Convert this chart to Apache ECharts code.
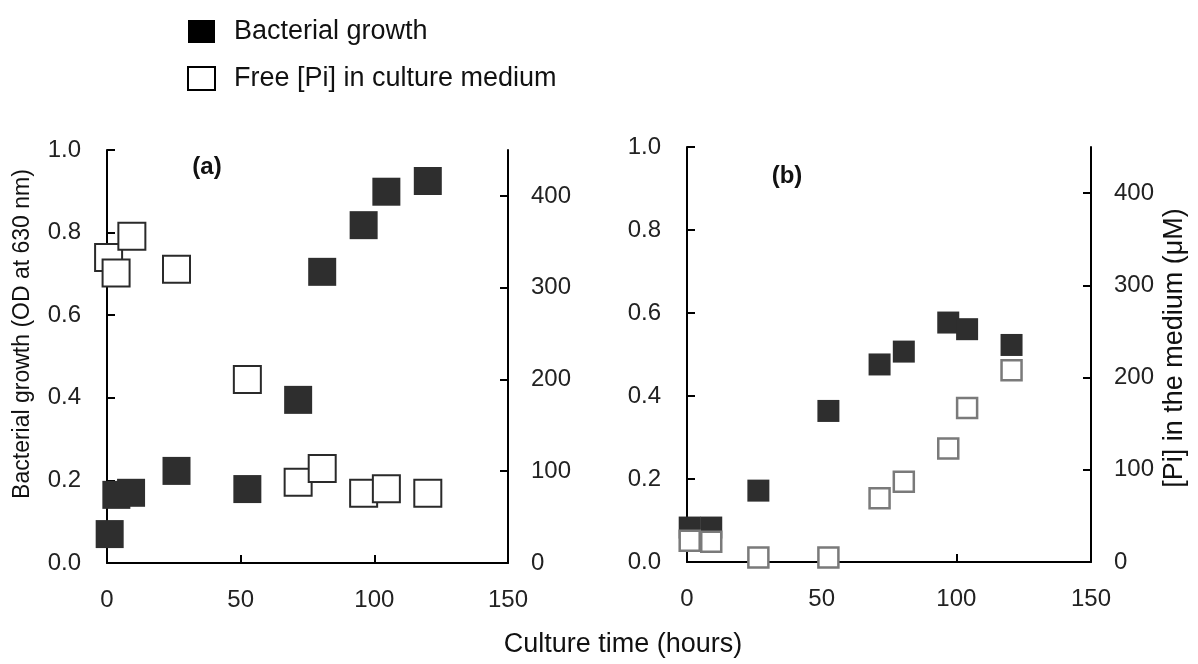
<!DOCTYPE html>
<html>
<head>
<meta charset="utf-8">
<script src="https://cdn.jsdelivr.net/npm/echarts@6/dist/echarts.min.js"></script>
<style>
html,body{margin:0;padding:0;background:#fff;}
#chart{width:1198px;height:664px;}
</style>
</head>
<body>
<div id="chart"></div>
<script>
// ---- data ----
const timeA = [1, 3.5, 9, 26, 52.5, 71.5, 80.5, 96, 104.5, 120];
const growthA = [0.07, 0.165, 0.17, 0.223, 0.179, 0.395, 0.705, 0.818, 0.899, 0.925];
const timePiA = [0.6, 3.4, 9.3, 26, 52.5, 71.5, 80.5, 96, 104.5, 120];
const piA = [333, 316, 356, 320, 200, 88, 103, 76, 81, 76];

const timeB = [1, 9, 26.5, 52.5, 71.5, 80.5, 97, 104, 120.5];
const growthB = [0.083, 0.083, 0.172, 0.364, 0.476, 0.507, 0.577, 0.561, 0.523];
const piB = [23, 22, 5, 5, 69, 87, 123, 167, 208];

const xTicks = [0, 50, 100, 150];
const leftTicks = [0, 0.2, 0.4, 0.6, 0.8, 1.0];
const rightTicks = [0, 100, 200, 300, 400];

const seriesNames = ['Bacterial growth', 'Free [Pi] in culture medium'];
const panelLabels = ['(a)', '(b)'];
const leftTitle = 'Bacterial growth (OD at 630 nm)';
const rightTitle = '[Pi] in the medium (\u03bcM)';
const xTitle = 'Culture time (hours)';

// ---- chart ----
const FONT = '"Liberation Sans", Arial, sans-serif';
const pair = (xs, ys) => xs.map((x, i) => [x, ys[i]]);

function xAxisCfg(gi) {
  return {
    type: 'value', gridIndex: gi, min: 0, max: 150, interval: 50,
    axisLine: { show: true, onZero: false, lineStyle: { color: '#000', width: 2 } },
    axisTick: { show: true, inside: true, length: 8, lineStyle: { color: '#000', width: 2 } },
    axisLabel: { margin: 25, fontSize: 24, color: '#222', fontFamily: FONT },
    splitLine: { show: false }
  };
}
function leftAxisCfg(gi) {
  return {
    type: 'value', gridIndex: gi, position: 'left', min: 0, max: 1, interval: 0.2,
    axisLine: { show: true, onZero: false, lineStyle: { color: '#000', width: 2 } },
    axisTick: { show: true, inside: true, length: 8, lineStyle: { color: '#000', width: 2 } },
    axisLabel: { margin: 26, fontSize: 24, color: '#222', fontFamily: FONT,
      formatter: v => v.toFixed(1) },
    splitLine: { show: false }
  };
}
function rightAxisCfg(gi) {
  return {
    type: 'value', gridIndex: gi, position: 'right', min: 0, max: 450,
    axisLine: { show: true, onZero: false, lineStyle: { color: '#000', width: 2 } },
    axisTick: { show: true, inside: true, length: 8, customValues: rightTicks,
      lineStyle: { color: '#000', width: 2 } },
    axisLabel: { margin: 23, fontSize: 24, color: '#222', fontFamily: FONT,
      customValues: rightTicks },
    splitLine: { show: false }
  };
}

const chart = echarts.init(document.getElementById('chart'));
chart.setOption({
  backgroundColor: '#fff',
  animation: false,
  textStyle: { fontFamily: FONT },
  legend: {
    orient: 'vertical', left: 182, top: 13, itemWidth: 27, itemHeight: 23, itemGap: 20,
    textStyle: { fontSize: 27, color: '#111', fontFamily: FONT, padding: [0, 0, 0, 14] },
    data: [
      { name: seriesNames[0], icon: 'rect', itemStyle: { color: '#000', borderWidth: 0 } },
      { name: seriesNames[1], icon: 'rect', itemStyle: { color: '#fff', borderColor: '#000', borderWidth: 2 } }
    ],
    selectedMode: false
  },
  grid: [
    { left: 107, top: 150, width: 401, height: 413 },
    { left: 687, top: 147, width: 404, height: 415 }
  ],
  xAxis: [xAxisCfg(0), xAxisCfg(1)],
  yAxis: [leftAxisCfg(0), rightAxisCfg(0), leftAxisCfg(1), rightAxisCfg(1)],
  series: [
    { name: seriesNames[0], type: 'scatter', xAxisIndex: 0, yAxisIndex: 0,
      symbol: 'rect', symbolSize: 28, data: pair(timeA, growthA),
      itemStyle: { color: '#2e2e2e', opacity: 1 } },
    { name: seriesNames[1], type: 'scatter', xAxisIndex: 0, yAxisIndex: 1,
      symbol: 'rect', symbolSize: 27, data: pair(timePiA, piA),
      itemStyle: { color: '#fff', borderColor: '#2a2a2a', borderWidth: 2, opacity: 1 } },
    { name: seriesNames[0], type: 'scatter', xAxisIndex: 1, yAxisIndex: 2,
      symbol: 'rect', symbolSize: 22, data: pair(timeB, growthB),
      itemStyle: { color: '#2e2e2e', opacity: 1 } },
    { name: seriesNames[1], type: 'scatter', xAxisIndex: 1, yAxisIndex: 3,
      symbol: 'rect', symbolSize: 20, data: pair(timeB, piB),
      itemStyle: { color: '#fff', borderColor: '#7a7a7a', borderWidth: 2.5, opacity: 1 } }
  ],
  graphic: [
    { type: 'text', x: 207, y: 167, style: { text: panelLabels[0], font: 'bold 24px ' + FONT,
      fill: '#111', align: 'center', verticalAlign: 'middle' } },
    { type: 'text', x: 787, y: 176, style: { text: panelLabels[1], font: 'bold 24px ' + FONT,
      fill: '#111', align: 'center', verticalAlign: 'middle' } },
    { type: 'text', x: 23, y: 334, rotation: Math.PI / 2,
      style: { text: leftTitle, font: '23px ' + FONT, fill: '#111', align: 'center', verticalAlign: 'middle' } },
    { type: 'text', x: 1175, y: 348, rotation: Math.PI / 2,
      style: { text: rightTitle, font: '27px ' + FONT, fill: '#111', align: 'center', verticalAlign: 'middle' } },
    { type: 'text', x: 623, y: 645,
      style: { text: xTitle, font: '27px ' + FONT, fill: '#111', align: 'center', verticalAlign: 'middle' } }
  ]
});
</script>
</body>
</html>
